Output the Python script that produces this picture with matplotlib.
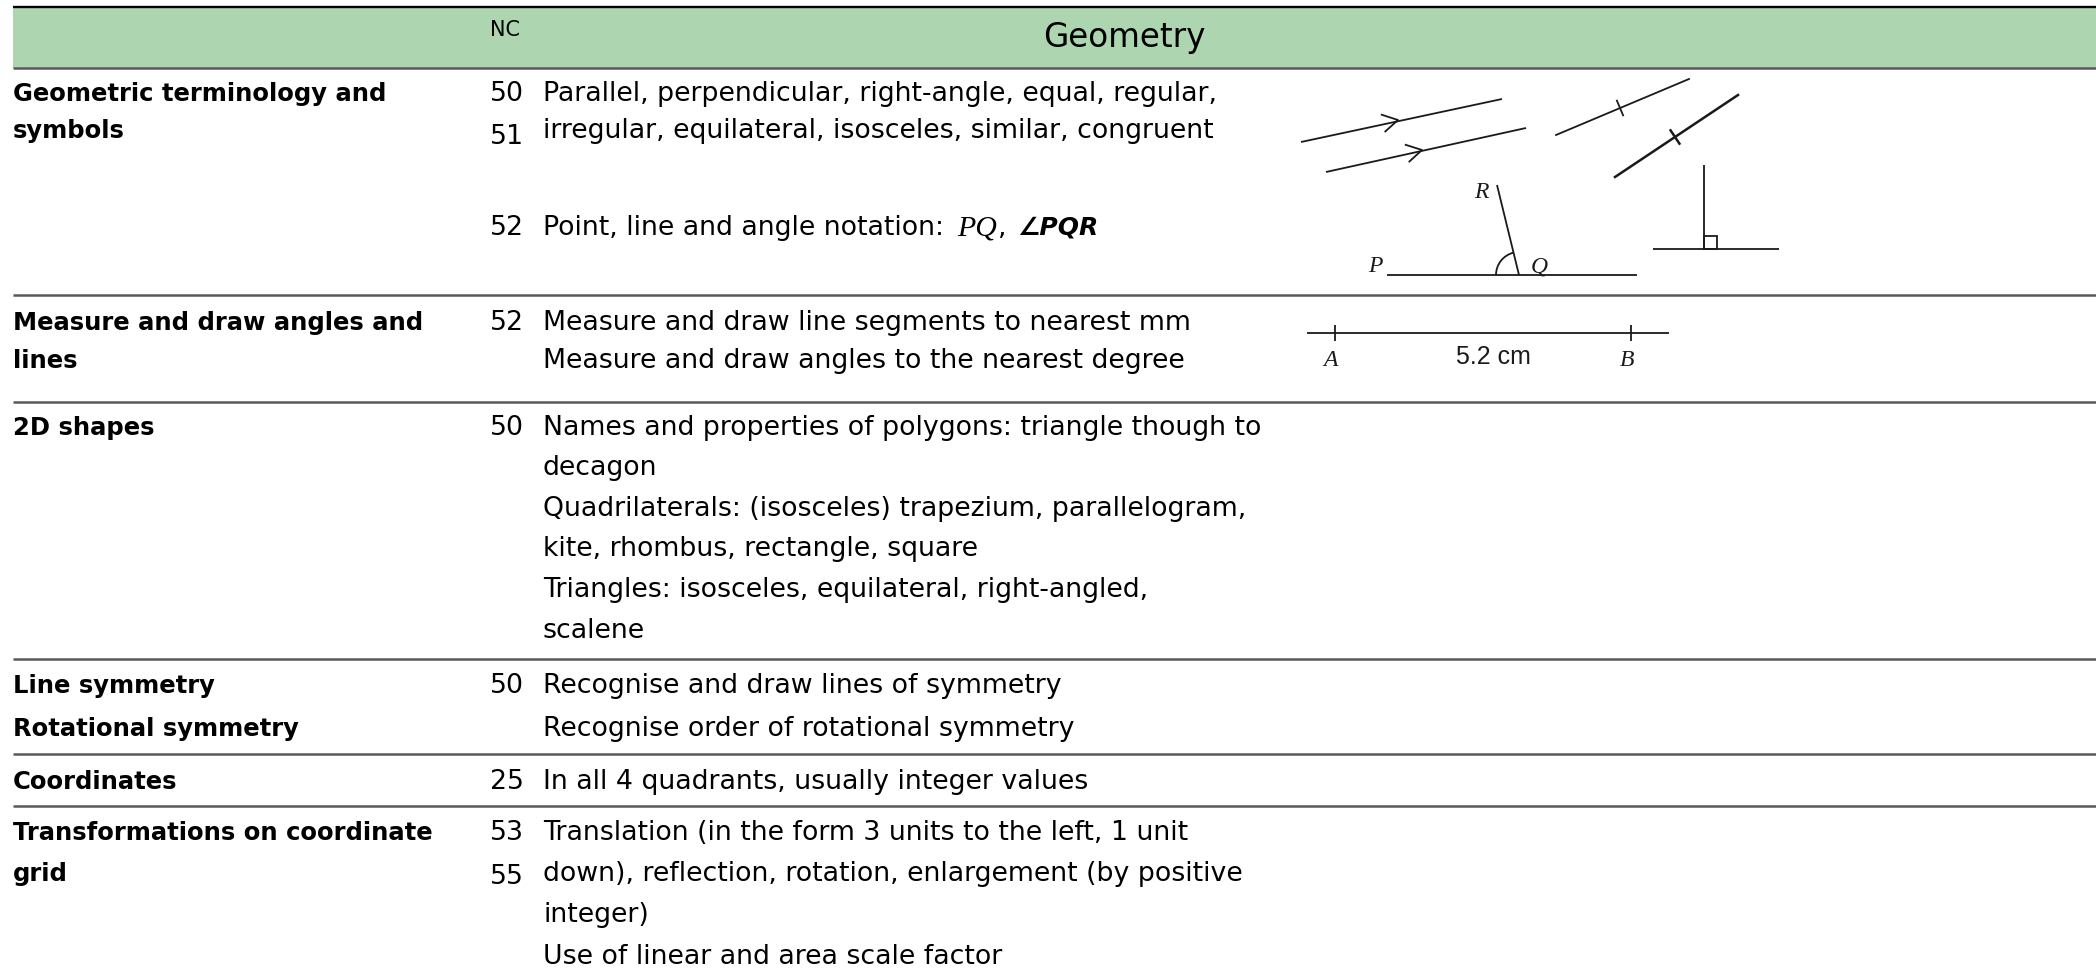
import numpy as np
import matplotlib
matplotlib.use('Agg')
import matplotlib.pyplot as plt
from matplotlib.patches import Arc, Rectangle

plt.rcParams['font.family'] = ['DejaVu Sans']

# ---- table content ----
header_nc = 'NC'
header_title = 'Geometry'

topics = [
    ['Geometric terminology and', 'symbols'],
    ['Measure and draw angles and', 'lines'],
    ['2D shapes'],
    ['Line symmetry', 'Rotational symmetry'],
    ['Coordinates'],
    ['Transformations on coordinate', 'grid'],
]
nc_codes = [['50', '51', '52'], ['52'], ['50'], ['50'], ['25'], ['53', '55']]
descriptions = [
    ['Parallel, perpendicular, right-angle, equal, regular,',
     'irregular, equilateral, isosceles, similar, congruent',
     'Point, line and angle notation:'],
    ['Measure and draw line segments to nearest mm',
     'Measure and draw angles to the nearest degree'],
    ['Names and properties of polygons: triangle though to', 'decagon',
     'Quadrilaterals: (isosceles) trapezium, parallelogram,',
     'kite, rhombus, rectangle, square',
     'Triangles: isosceles, equilateral, right-angled,', 'scalene'],
    ['Recognise and draw lines of symmetry',
     'Recognise order of rotational symmetry'],
    ['In all 4 quadrants, usually integer values'],
    ['Translation (in the form 3 units to the left, 1 unit',
     'down), reflection, rotation, enlargement (by positive',
     'integer)',
     'Use of linear and area scale factor'],
]
notation_math = ['PQ', ',', '\u2220PQR']
segment_label = '5.2 cm'

# ---- layout, in pixels from the top left ----
W, H = 2096, 976
x_left, x_nc, x_desc = 13, 490, 543
line_y = [[101, 138, 235], [330, 368], [435, 475, 516, 556, 597, 638],
          [693, 736], [789], [840, 881, 922, 964]]
nc_y = [[101, 144, 235], [330], [435], [693], [789], [840, 884]]
rule_y = [68, 295, 402, 659, 754, 806]

# diagram geometry (pixels)
arrow_lines = [((1301, 142), (1502, 99), (1398, 120)),
               ((1326, 172), (1526, 128), (1422, 150))]
tick_lines = [((1556, 135), (1689, 79), (1620, 108), 1.3),
              ((1615, 177), (1738, 95), (1675, 137), 1.8)]
pq_line = ((1387, 275), (1637, 275))
q_vertex = (1519, 275)
r_end = (1497, 185)
perp_base = ((1653, 249), (1779, 249))
perp_top = (1704, 165)
ab_line = ((1307, 333), (1669, 333))
ab_ticks = [1335, 1631]

fig = plt.figure(figsize=(W / 100, H / 100), dpi=100)
ax = fig.add_axes([0, 0, 1, 1])
ax.set_xlim(0, W)
ax.set_ylim(H, 0)
ax.axis('off')

# header band and rules
ax.add_patch(Rectangle((x_left, 7), W - x_left, rule_y[0] - 7, color='#add5b0', lw=0))
ax.plot([x_left, W], [7, 7], color='black', lw=1.7, solid_capstyle='butt')
for y in rule_y:
    ax.plot([x_left, W], [y, y], color='#595959', lw=1.8, solid_capstyle='butt')

ax.text(x_nc, 36, header_nc, fontsize=15, va='baseline')
ax.text(1124, 47, header_title, fontsize=23.5, va='baseline', ha='center')

body = dict(fontsize=19.3, va='baseline', ha='left', color='black')
last = None
for r in range(len(topics)):
    for i, s in enumerate(topics[r]):
        ax.text(x_left, line_y[r][i], s, fontsize=17.5, fontweight='bold',
                va='baseline', color='black')
    for s, y in zip(nc_codes[r], nc_y[r]):
        ax.text(x_nc, y, s, **body)
    for i, s in enumerate(descriptions[r]):
        t = ax.text(x_desc, line_y[r][i], s, **body)
        if r == 0 and i == 2:
            last = t

# mixed-font notation after "Point, line and angle notation:"
yb = line_y[0][2]
t2 = ax.annotate(notation_math[0], xy=(1, yb), xycoords=(last, 'data'),
                 xytext=(13, 0), textcoords='offset pixels', va='baseline',
                 fontsize=21.5, family='Liberation Serif', style='italic')
t3 = ax.annotate(notation_math[1], xy=(1, yb), xycoords=(t2, 'data'),
                 xytext=(1, 0), textcoords='offset pixels', va='baseline',
                 fontsize=19.3)
ax.annotate(notation_math[2], xy=(1, yb), xycoords=(t3, 'data'),
            xytext=(11, 0), textcoords='offset pixels', va='baseline',
            fontsize=18, style='italic', fontweight='bold')

# ---- diagrams ----
dk = dict(color='#1a1a1a', lw=1.3, solid_capstyle='butt')


def unit(a, b):
    u = np.subtract(b, a).astype(float)
    return u / np.hypot(*u)


for start, end, tip in arrow_lines:
    ax.plot([start[0], end[0]], [start[1], end[1]], **dk)
    u = unit(start, end)
    n = np.array([-u[1], u[0]])
    a = np.radians(30)
    tip = np.array(tip, float)
    p1 = tip - 18 * np.cos(a) * u + 18 * np.sin(a) * n
    p2 = tip - 18 * np.cos(a) * u - 18 * np.sin(a) * n
    ax.plot([p1[0], tip[0], p2[0]], [p1[1], tip[1], p2[1]], **dk)

for start, end, mark, lw in tick_lines:
    ax.plot([start[0], end[0]], [start[1], end[1]], color='#1a1a1a', lw=lw)
    u = unit(start, end)
    n = np.array([-u[1], u[0]])
    m = np.array(mark, float)
    ax.plot([m[0] - 8 * n[0], m[0] + 8 * n[0]], [m[1] - 8 * n[1], m[1] + 8 * n[1]],
            color='#1a1a1a', lw=lw)

# angle PQR
ax.plot([pq_line[0][0], pq_line[1][0]], [pq_line[0][1], pq_line[1][1]], **dk)
ax.plot([q_vertex[0], r_end[0]], [q_vertex[1], r_end[1]], **dk)
ang_r = np.degrees(np.arctan2(r_end[1] - q_vertex[1], r_end[0] - q_vertex[0])) % 360
ax.add_patch(Arc(q_vertex, 46, 46, theta1=180, theta2=ang_r, color='#1a1a1a', lw=1.3))
lbl = dict(family='Liberation Serif', style='italic', fontsize=17, color='#1a1a1a',
           va='baseline', ha='center')
ax.text(1375, 272, 'P', **lbl)
ax.text(1539, 272, 'Q', **lbl)
ax.text(1481, 198, 'R', **lbl)

# right angle
ax.plot([perp_base[0][0], perp_base[1][0]], [perp_base[0][1], perp_base[1][1]], **dk)
ax.plot([perp_top[0], perp_top[0]], [perp_top[1], perp_base[0][1]], **dk)
ax.add_patch(Rectangle((perp_top[0], perp_base[0][1] - 13), 13, 13, fill=False,
                       edgecolor='#1a1a1a', lw=1.3))

# segment AB
ax.plot([ab_line[0][0], ab_line[1][0]], [ab_line[0][1], ab_line[1][1]], **dk)
for x in ab_ticks:
    ax.plot([x, x], [ab_line[0][1] - 8, ab_line[0][1] + 8], **dk)
ax.text(ab_ticks[0] - 5, 366, 'A', **lbl)
ax.text(ab_ticks[1] - 4, 366, 'B', **lbl)
ax.text(1493, 364, segment_label, family='Liberation Sans', fontsize=18,
        color='#1a1a1a', va='baseline', ha='center')

fig.savefig('out.png', dpi=100, facecolor='white')
